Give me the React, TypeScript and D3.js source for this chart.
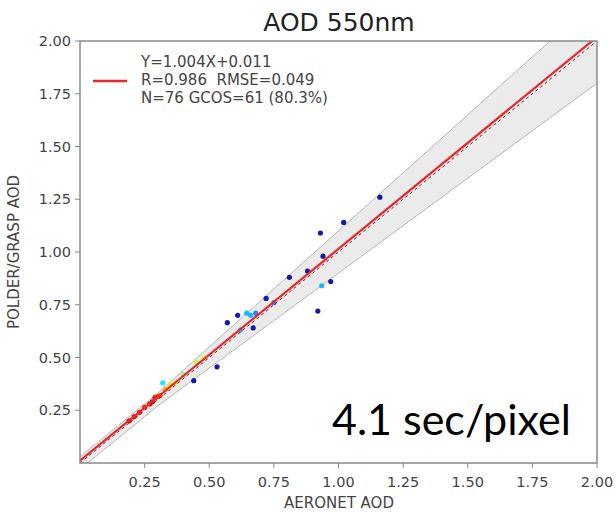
import React from "react";
import * as d3 from "d3";

const aeronet = [1.16, 1.02, 0.93, 0.94, 0.88, 0.81, 0.97, 0.935, 0.92, 0.72, 0.61, 0.57, 0.645, 0.66, 0.67, 0.68, 0.53, 0.44, 0.32,
  0.19, 0.21, 0.23, 0.25, 0.27, 0.28, 0.29, 0.30, 0.31, 0.33, 0.35, 0.37, 0.40, 0.45, 0.48, 0.62, 0.75];
const polder = [1.26, 1.14, 1.09, 0.98, 0.91, 0.88, 0.86, 0.84, 0.72, 0.78, 0.70, 0.665, 0.71, 0.70, 0.64, 0.71, 0.456, 0.39, 0.38,
  0.20, 0.22, 0.24, 0.265, 0.28, 0.29, 0.31, 0.315, 0.32, 0.35, 0.37, 0.38, 0.42, 0.48, 0.50, 0.63, 0.76];
const density = [0.02, 0.02, 0.02, 0.04, 0.04, 0.02, 0.02, 0.3, 0.02, 0.04, 0.04, 0.02, 0.3, 0.3, 0.04, 0.25, 0.02, 0.02, 0.35,
  0.95, 0.9, 0.9, 0.85, 0.9, 0.95, 0.9, 0.85, 0.8, 0.7, 0.65, 0.6, 0.5, 0.55, 0.6, 0.3, 0.25];
const ticks = [0.25, 0.5, 0.75, 1.0, 1.25, 1.5, 1.75, 2.0];
const fitSlope = 1.004;
const fitIntercept = 0.011;
const legendLines = ["Y=1.004X+0.011", "R=0.986  RMSE=0.049", "N=76 GCOS=61 (80.3%)"];
const title = "AOD 550nm";
const xLabel = "AERONET AOD";
const yLabel = "POLDER/GRASP AOD";
const overlay = "4.1 sec/pixel";

const W = 616, H = 512;
const L = 80, R = 597, T = 41, B = 463;

export default function App() {
  const x = d3.scaleLinear().domain([0, 2]).range([L, R]);
  const y = d3.scaleLinear().domain([0, 2]).range([B, T]);
  const jet = d3.scaleLinear<string>()
    .domain([0, 0.125, 0.375, 0.625, 0.875, 1])
    .range(["#00007f", "#0000ff", "#00ffff", "#ffff00", "#ff0000", "#7f0000"]);
  const xs = d3.range(0, 2.0001, 0.01);
  const env = (v: number) => Math.max(0.03, 0.1 * v);
  const area = d3.area<number>().x(v => x(v)).y0(v => y(v - env(v))).y1(v => y(v + env(v)));
  const upper = d3.line<number>().x(v => x(v)).y(v => y(v + env(v)));
  const lower = d3.line<number>().x(v => x(v)).y(v => y(v - env(v)));
  const fit = d3.line<number>().x(v => x(v)).y(v => y(fitSlope * v + fitIntercept));
  const font = "'DejaVu Sans', sans-serif";
  const axisColor = "#8a8a8a";
  const textColor = "#444";
  return (
    <svg width={W} height={H} style={{ position: "absolute", left: 0, top: 0, background: "#fff" }}>
      <defs>
        <clipPath id="clip"><rect x={L} y={T} width={R - L} height={B - T} /></clipPath>
      </defs>
      <rect width={W} height={H} fill="#fff" />
      <g clipPath="url(#clip)">
        <path d={area(xs) || ""} fill="#ebebeb" />
        <path d={upper(xs) || ""} fill="none" stroke="#b4b4b4" strokeWidth={1} />
        <path d={lower(xs) || ""} fill="none" stroke="#b4b4b4" strokeWidth={1} />
        {aeronet.map((a, i) => (
          <circle key={i} cx={x(a)} cy={y(polder[i])} r={2.6} fill={jet(density[i])} opacity={0.9} />
        ))}
        <path d={fit([0, 2]) || ""} fill="none" stroke="#e8262b" strokeWidth={2.2} />
        <line x1={x(0)} y1={y(0)} x2={x(2)} y2={y(2)} stroke="#7a1a20" strokeWidth={1} strokeDasharray="3,3" />
      </g>
      <rect x={L} y={T} width={R - L} height={B - T} fill="none" stroke={axisColor} strokeWidth={1.5} />
      {ticks.map(t => (
        <g key={"x" + t}>
          <line x1={x(t)} x2={x(t)} y1={B} y2={B + 5} stroke={axisColor} strokeWidth={1} />
          <text x={x(t)} y={B + 24} textAnchor="middle" fontFamily={font} fontSize={14.5} fill={textColor}>{t.toFixed(2)}</text>
        </g>
      ))}
      {ticks.map(t => (
        <g key={"y" + t}>
          <line x1={L - 5} x2={L} y1={y(t)} y2={y(t)} stroke={axisColor} strokeWidth={1} />
          <text x={L - 9} y={y(t)} dy="0.35em" textAnchor="end" fontFamily={font} fontSize={14.5} fill={textColor}>{t.toFixed(2)}</text>
        </g>
      ))}
      <text x={339} y={31} textAnchor="middle" fontFamily={font} fontSize={25} fill="#222">{title}</text>
      <text x={339} y={508} textAnchor="middle" fontFamily={font} fontSize={15} fill={textColor}>{xLabel}</text>
      <text transform={`translate(19,${(T + B) / 2}) rotate(-90)`} textAnchor="middle" fontFamily={font} fontSize={15} fill={textColor}>{yLabel}</text>
      <line x1={93} x2={127} y1={81} y2={81} stroke="#e8262b" strokeWidth={2.5} />
      {legendLines.map((s, i) => (
        <text key={s} x={141} y={62 + i * 18} dy="0.35em" fontFamily={font} fontSize={15} fill={textColor} style={{ whiteSpace: "pre" }}>{s}</text>
      ))}
      <text x={332} y={435} fontFamily="Lato, sans-serif" fontSize={43} fill="#000">{overlay}</text>
    </svg>
  );
}
